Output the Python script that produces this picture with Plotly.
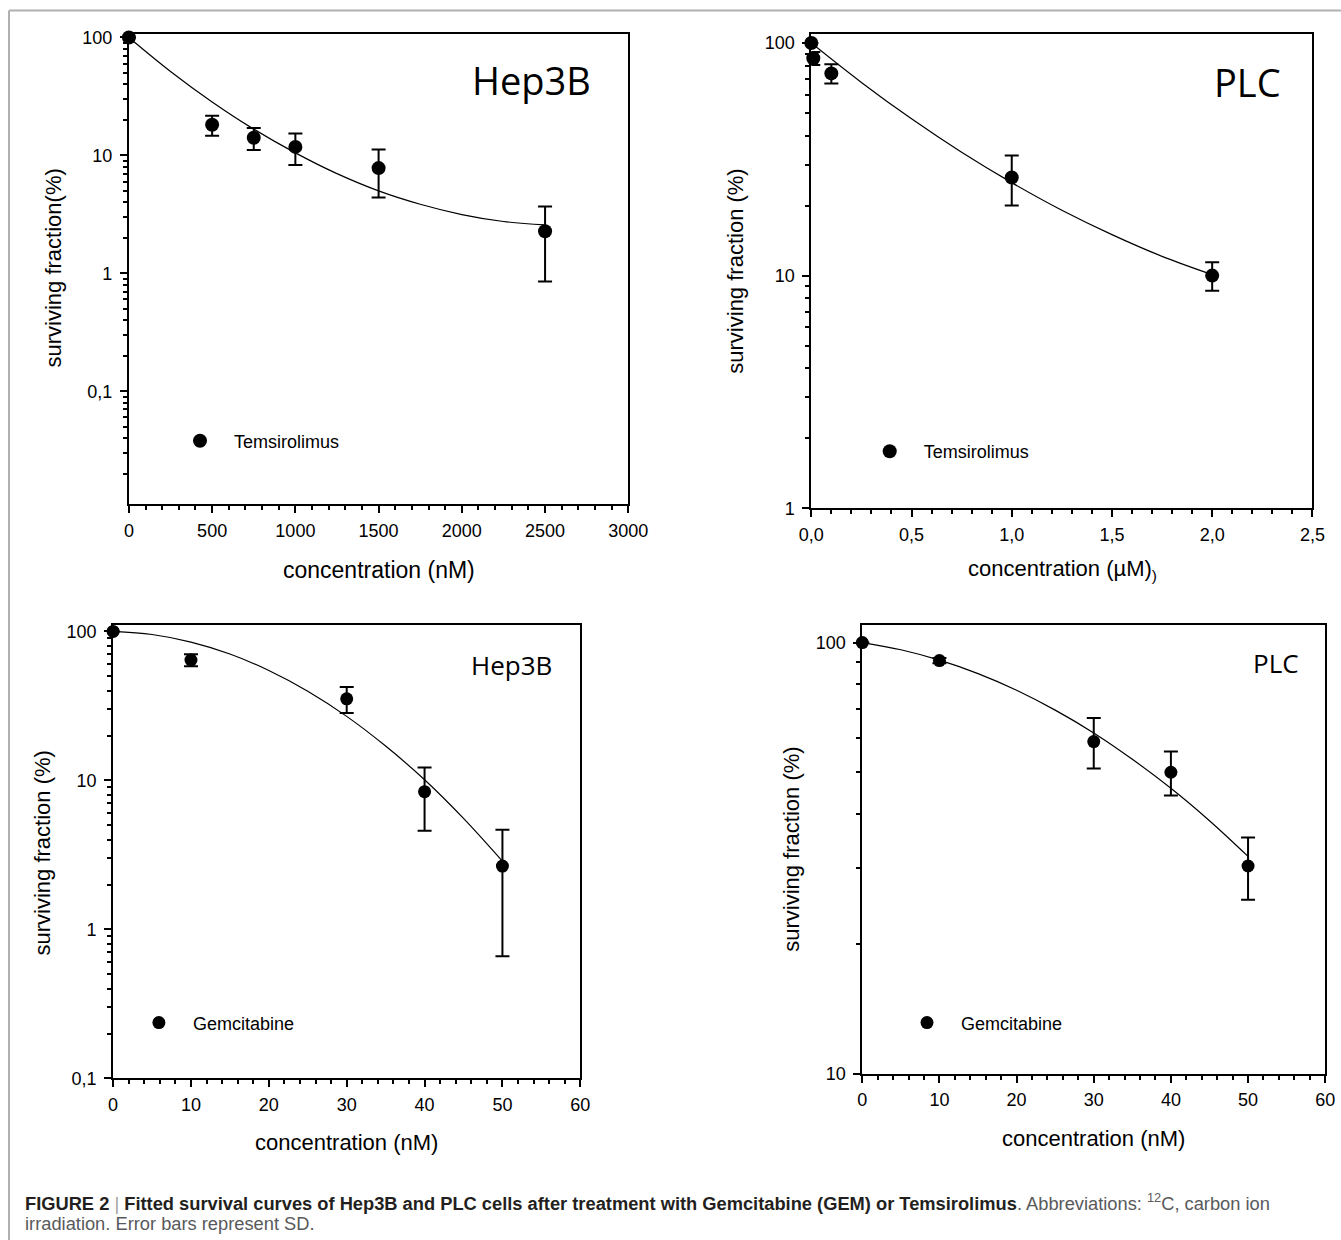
import plotly.graph_objects as go

W, H = 1341, 1240

# ---------------- data ----------------
# Panel A: Hep3B, Temsirolimus (nM)
hep3b_tem_conc = [0, 500, 750, 1000, 1500, 2500]
hep3b_tem_sf = [100, 18.2, 14.1, 11.8, 7.8, 2.27]
hep3b_tem_sd = [0, 3.5, 3.0, 3.5, 3.4, 1.42]
hep3b_tem_fit_conc = [0, 250, 500, 750, 1000, 1250, 1500, 1750, 2000, 2250, 2500]
hep3b_tem_fit_sf = [100, 51.5, 28.4, 16.7, 10.5, 7.0, 5.0, 3.85, 3.15, 2.75, 2.57]

# Panel B: PLC, Temsirolimus (uM)
plc_tem_conc = [0, 0.01, 0.1, 1.0, 2.0]
plc_tem_sf = [100, 86, 74, 26.4, 10.0]
plc_tem_sd = [0, 5.5, 7.0, 6.4, 1.4]
plc_tem_fit_conc = [0, 0.25, 0.5, 0.75, 1.0, 1.25, 1.5, 1.75, 2.0]
plc_tem_fit_sf = [100, 67.7, 47.2, 33.9, 25.1, 19.1, 15.0, 12.1, 10.1]

# Panel C: Hep3B, Gemcitabine (nM)
hep3b_gem_conc = [0, 10, 30, 40, 50]
hep3b_gem_sf = [100, 64.3, 35.3, 8.4, 2.66]
hep3b_gem_sd = [0, 6.0, 7.0, 3.8, 2.0]
hep3b_gem_fit_conc = [0, 5, 10, 15, 20, 25, 30, 35, 40, 45, 50]
hep3b_gem_fit_sf = [100, 95.3, 84.8, 70.5, 54.7, 39.7, 26.9, 17.0, 10.1, 5.56, 2.87]

# Panel D: PLC, Gemcitabine (nM)
plc_gem_conc = [0, 10, 30, 40, 50]
plc_gem_sf = [100, 90.8, 58.9, 50.0, 30.3]
plc_gem_sd = [0, 1.3, 7.9, 5.85, 5.0]
plc_gem_fit_conc = [0, 5, 10, 15, 20, 25, 30, 35, 40, 45, 50]
plc_gem_fit_sf = [100, 96.2, 91.0, 84.7, 77.5, 69.7, 61.7, 53.6, 45.9, 38.6, 31.9]

# tick labels
x_ticks_a = [0, 500, 1000, 1500, 2000, 2500, 3000]
x_text_a = ["0", "500", "1000", "1500", "2000", "2500", "3000"]
x_ticks_b = [0, 0.5, 1.0, 1.5, 2.0, 2.5]
x_text_b = ["0,0", "0,5", "1,0", "1,5", "2,0", "2,5"]
x_ticks_cd = [0, 10, 20, 30, 40, 50, 60]
x_text_cd = ["0", "10", "20", "30", "40", "50", "60"]
y_ticks = [0.1, 1, 10, 100]
y_text = ["0,1", "1", "10", "100"]

# ---------------- layout helpers ----------------
FONT = "Liberation Sans, Arial, sans-serif"
LABEL_FONT = "Open Sans, sans-serif"

def px_x(px):
    return px / W

def px_y(py):
    return 1 - py / H

panels = [
    dict(x=(128.9, 628.3), y=(33.7, 504.4), xr=[0, 3000], yr=[-1.96, 2.032],
         xt=x_ticks_a, xtt=x_text_a, xm=100),
    dict(x=(811.3, 1312.4), y=(33.7, 508.2), xr=[0, 2.5], yr=[0, 2.04],
         xt=x_ticks_b, xtt=x_text_b, xm=0.1),
    dict(x=(113.1, 580.3), y=(625.3, 1078.4), xr=[0, 60], yr=[-1, 2.041],
         xt=x_ticks_cd, xtt=x_text_cd, xm=2),
    dict(x=(862.3, 1325.2), y=(625.3, 1073.5), xr=[0, 60], yr=[1, 2.04],
         xt=x_ticks_cd, xtt=x_text_cd, xm=2),
]

series = [
    (hep3b_tem_conc, hep3b_tem_sf, hep3b_tem_sd, hep3b_tem_fit_conc, hep3b_tem_fit_sf, "Temsirolimus", 14),
    (plc_tem_conc, plc_tem_sf, plc_tem_sd, plc_tem_fit_conc, plc_tem_fit_sf, "Temsirolimus", 14),
    (hep3b_gem_conc, hep3b_gem_sf, hep3b_gem_sd, hep3b_gem_fit_conc, hep3b_gem_fit_sf, "Gemcitabine", 13),
    (plc_gem_conc, plc_gem_sf, plc_gem_sd, plc_gem_fit_conc, plc_gem_fit_sf, "Gemcitabine", 13),
]

legend_pos = [(200, 441), (889.7, 451.6), (158.9, 1022.9), (927, 1022.9)]

minor_log = [m * 10 ** e for e in range(-2, 3) for m in range(2, 10)]

fig = go.Figure()
layout = dict(
    width=W, height=H,
    autosize=False,
    margin=dict(l=0, r=0, t=0, b=0, pad=0, autoexpand=False),
    paper_bgcolor="white", plot_bgcolor="white",
    font=dict(family=FONT, color="black", size=18),
    showlegend=True,
)

for i, (p, s) in enumerate(zip(panels, series)):
    n = "" if i == 0 else str(i + 1)
    xa, ya = "x" + n, "y" + n
    conc, sf, sd, fconc, fsf, name, msize = s
    leg = "legend" + n
    fig.add_trace(go.Scatter(
        x=fconc, y=fsf, mode="lines", line=dict(color="black", width=1.2, shape="spline"),
        xaxis=xa, yaxis=ya, showlegend=False, hoverinfo="skip"))
    fig.add_trace(go.Scatter(
        x=conc, y=sf, mode="markers", name=name,
        marker=dict(color="black", size=msize),
        error_y=dict(type="data", array=sd, visible=True, color="black", thickness=2, width=7),
        xaxis=xa, yaxis=ya, cliponaxis=False, legend=leg))

    common = dict(showline=True, linecolor="black", linewidth=2, mirror=True,
                  showgrid=False, zeroline=False, ticks="outside", ticklen=7,
                  tickwidth=1.5, tickcolor="black", tickfont=dict(size=18, family=FONT),
                  automargin=False)
    layout["xaxis" + n] = dict(
        common, domain=[px_x(p["x"][0]), px_x(p["x"][1])], range=p["xr"],
        anchor=ya, tickmode="array", tickvals=p["xt"], ticktext=p["xtt"],
        ticklabelstandoff=2,
        minor=dict(ticks="outside", ticklen=4, tickwidth=1.5, tickcolor="black", dtick=p["xm"], tick0=0))
    layout["yaxis" + n] = dict(
        common, domain=[px_y(p["y"][1]), px_y(p["y"][0])], range=p["yr"], type="log",
        anchor=xa, tickmode="array", tickvals=y_ticks, ticktext=y_text,
        ticklabelstandoff=4,
        minor=dict(ticks="outside", ticklen=4, tickwidth=1.5, tickcolor="black",
                   tickmode="array", tickvals=minor_log))
    lx, ly = legend_pos[i]
    layout[leg] = dict(x=px_x(lx - 34), y=px_y(ly), xanchor="left", yanchor="middle",
                       bgcolor="rgba(0,0,0,0)", font=dict(size=18, family=FONT),
                       itemwidth=58, borderwidth=0)

fig.update_layout(**layout)

annots = [
    # panel labels
    dict(text="Hep3B", x=531, y=80, size=38, fam=LABEL_FONT, angle=0),
    dict(text="PLC", x=1247, y=82, size=38, fam=LABEL_FONT, angle=0),
    dict(text="Hep3B", x=511, y=664.5, size=26, fam=LABEL_FONT, angle=0),
    dict(text="PLC", x=1275.6, y=663, size=26, fam=LABEL_FONT, angle=0),
    # axis titles
    dict(text="concentration (nM)", x=378.7, y=570, size=23, fam=FONT, angle=0),
    dict(text="surviving fraction(%)", x=53.5, y=268, size=22, fam=FONT, angle=-90),
    dict(text="concentration (µM)<sub>)</sub>", x=1062, y=570, size=22, fam=FONT, angle=0),
    dict(text="surviving fraction (%)", x=736, y=271.7, size=22, fam=FONT, angle=-90),
    dict(text="concentration (nM)", x=346.8, y=1142, size=22, fam=FONT, angle=0),
    dict(text="surviving fraction (%)", x=41.5, y=853, size=22, fam=FONT, angle=-90),
    dict(text="concentration (nM)", x=1093.6, y=1138, size=22, fam=FONT, angle=0),
    dict(text="surviving fraction (%)", x=790.8, y=849, size=22, fam=FONT, angle=-90),
]
for a in annots:
    fig.add_annotation(text=a["text"], x=px_x(a["x"]), y=px_y(a["y"]), xref="paper", yref="paper",
                       xanchor="center", yanchor="middle", showarrow=False, textangle=a["angle"],
                       font=dict(size=a["size"], family=a["fam"], color="black"))

cap1 = ("<span style='color:#231f20'><b>FIGURE 2</b></span> <span style='color:#a0a0a0'>|</span> "
        "<span style='color:#231f20'><b>Fitted survival curves of Hep3B and PLC cells after treatment with "
        "Gemcitabine (GEM) or Temsirolimus</b></span>. Abbreviations: <sup>12</sup>C, carbon ion")
cap2 = "irradiation. Error bars represent SD."
for txt, yy in [(cap1, 1201.5), (cap2, 1223)]:
    fig.add_annotation(text=txt, x=px_x(23), y=px_y(yy), xref="paper", yref="paper",
                       xanchor="left", yanchor="middle", showarrow=False,
                       font=dict(size=18.3, family=FONT, color="#58595b"))

# frame lines
fig.add_shape(type="line", xref="paper", yref="paper", x0=px_x(9), x1=1, y0=px_y(10.5), y1=px_y(10.5),
              line=dict(color="#b0b0b0", width=2))
fig.add_shape(type="line", xref="paper", yref="paper", x0=px_x(9), x1=px_x(9), y0=px_y(10.5), y1=0,
              line=dict(color="#b0b0b0", width=2))

fig.write_html("out.html",
               config={"displayModeBar": False},
               post_script="document.body.style.margin='0';document.body.style.padding='0';"
                           "document.body.style.overflow='hidden';")
